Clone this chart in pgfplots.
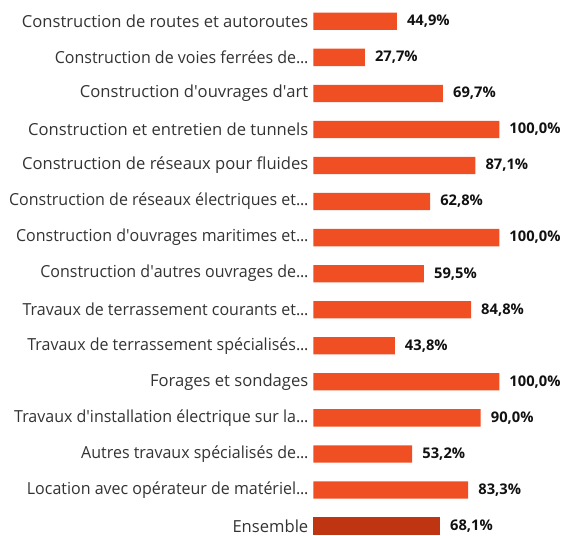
\documentclass[border=0pt]{standalone}
\usepackage{pgfplots}
\pgfplotsset{compat=1.18}
\usepackage{fontspec}
\setmainfont{Open Sans}
\definecolor{barorange}{HTML}{F04E23}
\definecolor{bardark}{HTML}{BF3512}
\definecolor{labelgrey}{HTML}{333333}
\definecolor{valueblack}{HTML}{111111}

\pgfplotstableread[col sep=comma]{
y,share
0,44.9
1,27.7
2,69.7
3,100.0
4,87.1
5,62.8
6,100.0
7,59.5
8,84.8
9,43.8
10,100.0
11,90.0
12,53.2
13,83.3
}\sectors
\pgfplotstableread[col sep=comma]{
y,share
14,68.1
}\overall

% room left after labels that are not cut short
\newcommand{\gap}{\hspace{11pt}}
\newcommand{\q}{\textquotesingle}
% cut label: slightly narrowed text ending in three dots
\newcommand{\cut}[1]{\scalebox{0.964}[1]{#1.\kern-0.3pt.\kern-0.3pt.}}

\begin{document}
\begin{tikzpicture}
\begin{axis}[
  anchor=origin, at={(313.3pt,-21.3pt)},
  x=1.86pt, y=36.05pt, y dir=reverse,
  xmin=0, xmax=100, ymin=-0.5, ymax=14.5,
  clip=false,
  axis line style={draw=none},
  major tick length=0pt,
  xtick=\empty,
  ytick={0,...,14},
  yticklabels={
    Construction de routes et autoroutes\gap,
    \cut{Construction de voies ferrées de},
    Construction d\q ouvrages d\q art\gap,
    Construction et entretien de tunnels\gap,
    Construction de réseaux pour fluides\gap,
    \cut{Construction de réseaux électriques et},
    \cut{Construction d\q ouvrages maritimes et},
    \cut{Construction d\q autres ouvrages de},
    \cut{Travaux de terrassement courants et},
    \cut{Travaux de terrassement spécialisés},
    Forages et sondages\gap,
    \cut{Travaux d\q installation électrique sur la},
    \cut{Autres travaux spécialisés de},
    \cut{Location avec opérateur de matériel},
    Ensemble\gap},
  yticklabel style={anchor=east, inner sep=0pt, xshift=-4.8pt,
    font=\fontsize{16.6}{18}\selectfont, text=labelgrey},
  xbar, bar width=17.3pt, bar shift=0pt,
  nodes near coords={\pgfmathprintnumber{\pgfplotspointmeta}\%},
  nodes near coords style={anchor=west, inner sep=0pt, xshift=10pt,
    font=\bfseries\fontsize{14.7}{18}\selectfont, text=valueblack,
    /pgf/number format/.cd, fixed, fixed zerofill, precision=1,
    use comma, assume math mode=true},
]
\addplot[fill=barorange, draw=none] table[x=share, y=y] {\sectors};
\addplot[fill=bardark, draw=none] table[x=share, y=y] {\overall};
\end{axis}
\pgfresetboundingbox
\useasboundingbox (0,0) rectangle (566pt,-536pt);
\end{tikzpicture}
\end{document}
